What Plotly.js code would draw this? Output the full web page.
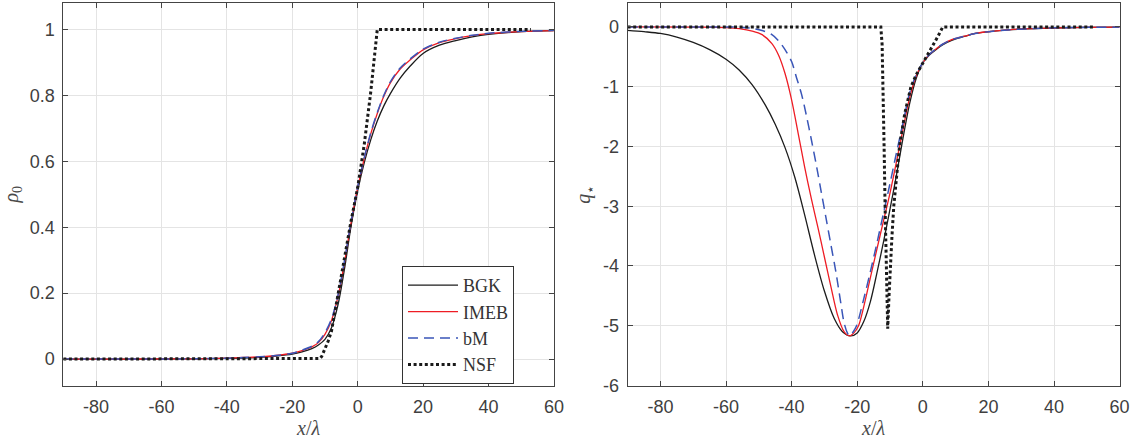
<!DOCTYPE html>
<html>
<head>
<meta charset="utf-8">
<script src="https://cdn.plot.ly/plotly-3.0.1.min.js"></script>
<style>
html,body{margin:0;padding:0;background:#fff;}
#chart{width:1134px;height:447px;}
</style>
</head>
<body>
<div id="chart"></div>
<script>
// ---------- data ----------
const seriesNames = ["BGK", "IMEB", "bM", "NSF"];

// left panel: rho_0 vs x/lambda
const xRho = [-90, -80, -70, -60, -50, -40, -35, -30, -25, -20, -17, -14, -12, -10, -8, -6, -4, -2, 0, 2, 4, 6, 8, 10, 13, 16, 20, 25, 30, 35, 40, 50, 60];
const rhoBGK = [0, 0, 0.0001, 0.0003, 0.001, 0.002, 0.003, 0.005, 0.009, 0.015, 0.022, 0.032, 0.043, 0.06, 0.095, 0.165, 0.275, 0.405, 0.51, 0.595, 0.665, 0.722, 0.768, 0.805, 0.852, 0.888, 0.927, 0.952, 0.966, 0.977, 0.985, 0.993, 0.996];
const rhoIMEB = [0, 0, 0.0002, 0.0005, 0.001, 0.003, 0.005, 0.007, 0.011, 0.018, 0.026, 0.037, 0.05, 0.075, 0.117, 0.19, 0.295, 0.415, 0.52, 0.608, 0.683, 0.745, 0.797, 0.838, 0.88, 0.907, 0.938, 0.96, 0.972, 0.981, 0.987, 0.993, 0.996];
const rhoBM = [0, 0, 0.0002, 0.0005, 0.001, 0.003, 0.005, 0.007, 0.011, 0.018, 0.027, 0.039, 0.053, 0.08, 0.122, 0.195, 0.30, 0.418, 0.522, 0.61, 0.686, 0.748, 0.8, 0.841, 0.883, 0.91, 0.94, 0.961, 0.973, 0.982, 0.988, 0.994, 0.997];
const xRhoNSF = [-90, -12, -11.5, -11, -10, -9, -8, -6, -4, -2, 0, 2, 4, 5, 5.5, 6, 53];
const rhoNSF = [0, 0, 0.002, 0.008, 0.03, 0.055, 0.085, 0.2, 0.31, 0.42, 0.52, 0.65, 0.81, 0.9, 0.95, 1, 1];

// right panel: q_star vs x/lambda
const xQBGK = [-90, -85, -80, -75, -70, -65, -60, -56, -52, -48, -45, -42, -39, -36, -33, -30, -27, -24.5, -22, -20, -18, -16, -14, -12, -10, -8, -6, -4, -2, 0, 2, 4, 6, 9, 12.7, 16, 20.9, 26, 32, 40, 50, 60];
const qBGK = [-0.057, -0.08, -0.11, -0.17, -0.26, -0.38, -0.54, -0.72, -0.97, -1.31, -1.63, -2.02, -2.52, -3.15, -3.82, -4.42, -4.88, -5.1, -5.17, -5.12, -4.93, -4.6, -4.12, -3.6, -3.05, -2.47, -1.85, -1.28, -0.86, -0.6, -0.47, -0.38, -0.3, -0.22, -0.16, -0.11, -0.075, -0.05, -0.033, -0.018, -0.009, -0.005];
const xQIMEB = [-90, -70, -60, -56, -52, -49, -46, -44, -42, -40, -38, -36, -34, -32, -30, -28, -26, -24, -22.4, -21, -19.6, -18, -16, -14, -12, -10, -8, -6, -4, -2, 0, 2, 4, 6, 9, 12.7, 16, 20.9, 26, 32, 40, 50, 60];
const qIMEB = [0, -0.003, -0.012, -0.03, -0.07, -0.13, -0.28, -0.47, -0.78, -1.22, -1.78, -2.35, -2.87, -3.35, -3.85, -4.35, -4.82, -5.1, -5.17, -5.12, -5.0, -4.68, -4.2, -3.72, -3.25, -2.78, -2.25, -1.7, -1.18, -0.82, -0.6, -0.46, -0.37, -0.29, -0.21, -0.155, -0.11, -0.075, -0.05, -0.03, -0.016, -0.007, -0.003];
const xQBM = [-90, -60, -55, -52, -49, -46, -44, -42, -40, -38.5, -37, -35.5, -34, -32.5, -31, -29.5, -28, -26.5, -25, -24, -23, -22.3, -21.2, -20.2, -18, -16, -14, -12, -10, -8, -6, -4, -2, 0, 2, 4, 6, 9, 12.7, 16, 20.9, 26, 32, 40, 50, 60];
const qBM = [0, -0.002, -0.008, -0.025, -0.06, -0.13, -0.23, -0.38, -0.58, -0.85, -1.12, -1.48, -1.88, -2.3, -2.75, -3.2, -3.65, -4.1, -4.62, -4.95, -5.12, -5.17, -5.1, -5.0, -4.55, -4.1, -3.62, -3.12, -2.62, -2.1, -1.6, -1.1, -0.8, -0.6, -0.46, -0.37, -0.29, -0.21, -0.155, -0.11, -0.075, -0.05, -0.03, -0.016, -0.007, -0.003];
const xQNSF = [-90, -12.8, -12.4, -12.1, -11.8, -11.5, -11.1, -10.7, -10.3, -9.9, -9.4, -8.85, -8.0, -7.1, -5.5, -3.6, -2.0, -0.5, 1.5, 3.0, 4.5, 6.1, 52];
const qNSF = [0, 0, -0.3, -1.0, -2.0, -3.0, -4.0, -5.05, -4.5, -4.0, -3.5, -3.0, -2.5, -2.0, -1.45, -1.0, -0.8, -0.66, -0.45, -0.32, -0.17, 0, 0];

// tick labels
const xTicks = [-80, -60, -40, -20, 0, 20, 40, 60];
const xTickText = ["-80", "-60", "-40", "-20", "0", "20", "40", "60"];
const rhoTicks = [0, 0.2, 0.4, 0.6, 0.8, 1];
const rhoTickText = ["0", "0.2", "0.4", "0.6", "0.8", "1"];
const qTicks = [-6, -5, -4, -3, -2, -1, 0];
const qTickText = ["-6", "-5", "-4", "-3", "-2", "-1", "0"];

// ---------- styles ----------
const styles = {
  BGK:  {color: "#1c1c1c", width: 1.3, dash: "solid", shape: "spline"},
  IMEB: {color: "#ee1c24", width: 1.3, dash: "solid", shape: "spline"},
  bM:   {color: "#3a56b8", width: 1.5, dash: "10px,6px", shape: "spline"},
  NSF:  {color: "#1a1a1a", width: 3, dash: "3px,2.6px", shape: "linear"}
};

function mk(name, x, y, xa, ya, show) {
  const s = styles[name];
  return {
    type: "scatter", mode: "lines", name: name, x: x, y: y,
    xaxis: xa, yaxis: ya, showlegend: show, hoverinfo: "skip",
    line: {color: s.color, width: s.width, dash: s.dash, shape: s.shape, smoothing: 0.9}
  };
}

const traces = [
  mk("BGK", xRho, rhoBGK, "x", "y", true),
  mk("IMEB", xRho, rhoIMEB, "x", "y", true),
  mk("bM", xRho, rhoBM, "x", "y", true),
  mk("NSF", xRhoNSF, rhoNSF, "x", "y", true),
  mk("BGK", xQBGK, qBGK, "x2", "y2", false),
  mk("IMEB", xQIMEB, qIMEB, "x2", "y2", false),
  mk("bM", xQBM, qBM, "x2", "y2", false),
  mk("NSF", xQNSF, qNSF, "x2", "y2", false)
];

const W = 1134, H = 447;
const tickFont = {family: "Liberation Sans, Arial, sans-serif", size: 18, color: "#404040"};
const titleFont = {family: "Liberation Serif, Times New Roman, serif", size: 20, color: "#4a4a4a"};

function xAxis(domain, anchor) {
  return {
    domain: domain, anchor: anchor, range: [-90, 60],
    tickmode: "array", tickvals: xTicks, ticktext: xTickText,
    ticks: "inside", ticklen: 5, tickwidth: 1, tickcolor: "#444",
    showline: true, linecolor: "#444", linewidth: 1, mirror: "ticks",
    showgrid: true, gridcolor: "#e4e4e4", gridwidth: 1, zeroline: false,
    tickfont: tickFont, ticklabelstandoff: 5,
    title: {text: "<i>x</i>/<i>λ</i>", font: titleFont, standoff: 3},
    automargin: false, fixedrange: true
  };
}
function yAxis(domain, anchor, range, tv, tt, title, standoff) {
  return {
    domain: domain, anchor: anchor, range: range,
    tickmode: "array", tickvals: tv, ticktext: tt,
    ticks: "inside", ticklen: 5, tickwidth: 1, tickcolor: "#444",
    showline: true, linecolor: "#444", linewidth: 1, mirror: "ticks",
    showgrid: true, gridcolor: "#e4e4e4", gridwidth: 1, zeroline: false,
    tickfont: tickFont, ticklabelstandoff: 4,
    title: {text: title, font: titleFont, standoff: standoff},
    automargin: false, fixedrange: true
  };
}

const yDom = [(H - 385.5) / H, (H - 3) / H];
const layout = {
  width: W, height: H,
  margin: {l: 0, r: 0, t: 0, b: 0, pad: 0},
  paper_bgcolor: "#ffffff", plot_bgcolor: "#ffffff",
  showlegend: true,
  xaxis: xAxis([63.3 / W, 553.9 / W], "y"),
  yaxis: yAxis(yDom, "x", [-0.08, 1.08], rhoTicks, rhoTickText, "<i>ρ</i><sub>0</sub>", 13),
  xaxis2: xAxis([627.6 / W, 1119.6 / W], "y2"),
  yaxis2: yAxis(yDom, "x2", [-6, 0.4], qTicks, qTickText, "<i>q</i><sub>⋆</sub>", 6),
  legend: {
    x: 402 / W, y: (H - 266) / H, xanchor: "left", yanchor: "top",
    bgcolor: "#ffffff", bordercolor: "#333333", borderwidth: 1,
    font: {family: "Liberation Serif, Times New Roman, serif", size: 18, color: "#333"},
    itemwidth: 50, tracegroupgap: 0, traceorder: "normal"
  }
};

Plotly.newPlot("chart", traces, layout, {staticPlot: true, displayModeBar: false});
</script>
</body>
</html>
